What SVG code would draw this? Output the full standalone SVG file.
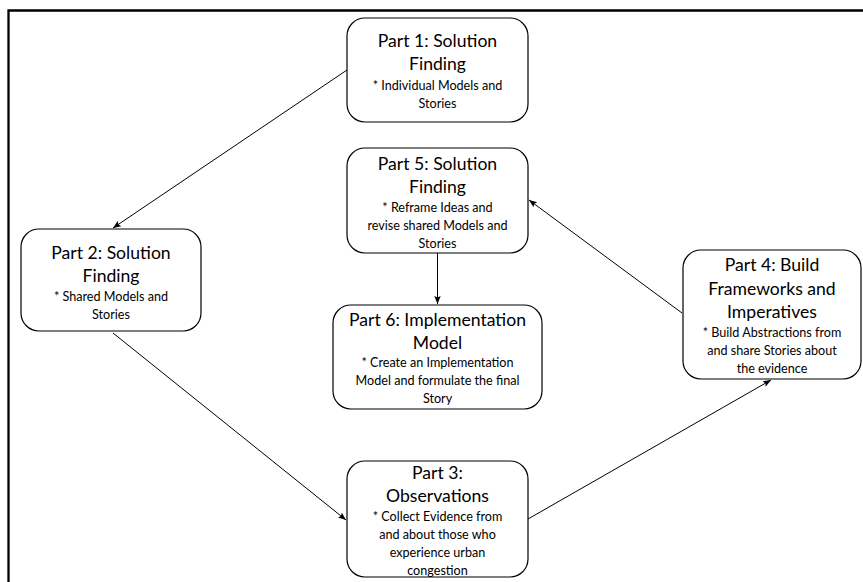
<svg xmlns="http://www.w3.org/2000/svg" width="863" height="582" viewBox="0 0 863 582">
<style>
.box{fill:#fff;stroke:#000;stroke-width:1.2}
.t{font-family:Lato,"Liberation Sans",sans-serif;font-size:17.6px;fill:#000;text-anchor:middle}
.d{font-family:Lato,"Liberation Sans",sans-serif;font-size:12.6px;fill:#000;text-anchor:middle}
.c{fill:none;stroke:#000;stroke-width:1;marker-end:url(#ah)}
.frame{fill:none;stroke:#000;stroke-width:2.3}
</style>
<defs>
<marker id="ah" viewBox="0 0 10 10" refX="10" refY="5" markerWidth="8" markerHeight="8" markerUnits="userSpaceOnUse" orient="auto">
<path d="M0,1 L10,5 L0,9 L2,5 Z" fill="#000"/>
</marker>
</defs>
<path class="frame" d="M8.5,582 L8.5,10.5 L863,10.5"/>
<g id="connectors">
<line class="c" x1="347" y1="70" x2="113" y2="228"/>
<line class="c" x1="113" y1="333" x2="346" y2="520"/>
<line class="c" x1="528" y1="519" x2="771" y2="380"/>
<line class="c" x1="682" y1="313" x2="529" y2="200"/>
<line class="c" x1="437.5" y1="253" x2="437.5" y2="304"/>
</g>
<g id="part1">
<rect class="box" x="347" y="18" width="181" height="104" rx="18"/>
<text class="t" x="437.5" y="47">Part 1: Solution</text>
<text class="t" x="437.5" y="70">Finding</text>
<text class="d" x="437.5" y="90">* Individual Models and</text>
<text class="d" x="437.5" y="108">Stories</text>
</g>
<g id="part5">
<rect class="box" x="347" y="148" width="181" height="105" rx="18"/>
<text class="t" x="437.5" y="170">Part 5: Solution</text>
<text class="t" x="437.5" y="193">Finding</text>
<text class="d" x="437.5" y="212">* Reframe Ideas and</text>
<text class="d" x="437.5" y="230">revise shared Models and</text>
<text class="d" x="437.5" y="248">Stories</text>
</g>
<g id="part2">
<rect class="box" x="21" y="229" width="180" height="102" rx="18"/>
<text class="t" x="111" y="259">Part 2: Solution</text>
<text class="t" x="111" y="282">Finding</text>
<text class="d" x="111" y="301">* Shared Models and</text>
<text class="d" x="111" y="319">Stories</text>
</g>
<g id="part6">
<rect class="box" x="333" y="305" width="209" height="104" rx="18"/>
<text class="t" x="437.5" y="326">Part 6: Implementation</text>
<text class="t" x="437.5" y="349">Model</text>
<text class="d" x="437.5" y="367">* Create an Implementation</text>
<text class="d" x="437.5" y="385">Model and formulate the final</text>
<text class="d" x="437.5" y="403">Story</text>
</g>
<g id="part4">
<rect class="box" x="683" y="250" width="178" height="129" rx="18"/>
<text class="t" x="772" y="271">Part 4: Build</text>
<text class="t" x="772" y="295">Frameworks and</text>
<text class="t" x="772" y="318">Imperatives</text>
<text class="d" x="772" y="337">* Build Abstractions from</text>
<text class="d" x="772" y="355">and share Stories about</text>
<text class="d" x="772" y="373">the evidence</text>
</g>
<g id="part3">
<rect class="box" x="347" y="461" width="181" height="116" rx="18"/>
<text class="t" x="437.5" y="479">Part 3:</text>
<text class="t" x="437.5" y="502">Observations</text>
<text class="d" x="437.5" y="521">* Collect Evidence from</text>
<text class="d" x="437.5" y="539">and about those who</text>
<text class="d" x="437.5" y="557">experience urban</text>
<text class="d" x="437.5" y="575">congestion</text>
</g>
</svg>
